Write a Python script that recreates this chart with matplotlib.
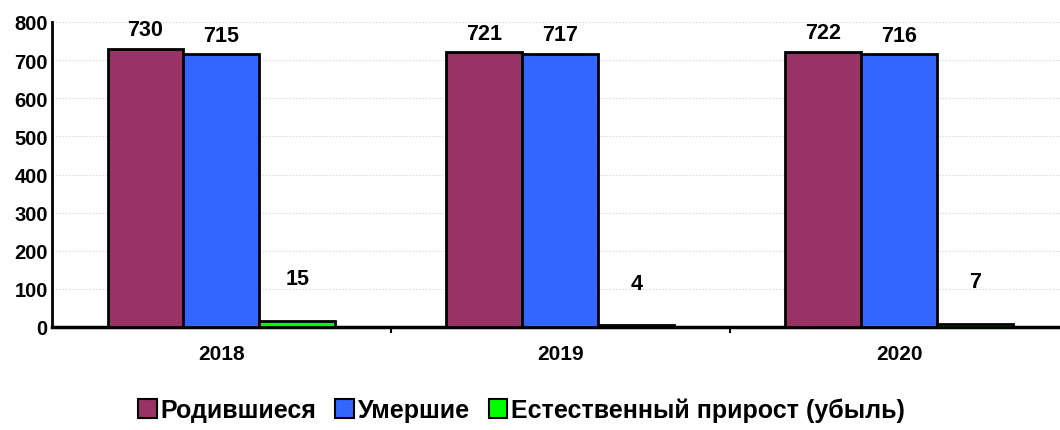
import matplotlib
matplotlib.use("Agg")
import matplotlib.pyplot as plt
import numpy as np
from matplotlib.patches import Patch

plt.rcParams['font.family'] = ['Liberation Sans', 'DejaVu Sans']
plt.rcParams['font.weight'] = 'bold'

years = ['2018', '2019', '2020']
series_names = ['Родившиеся', 'Умершие', 'Естественный прирост (убыль)']
born = [730, 721, 722]
died = [715, 717, 716]
growth = [15, 4, 7]
colors = ['#993366', '#3366FF', '#00FF00']

fig = plt.figure(figsize=(10.6, 4.31), dpi=100)
ax = fig.add_axes([52/1060, 1-328/431, 1-52/1060, (328-23)/431])

x = np.arange(len(years))
w = 0.224
data = [born, died, growth]
for i, (vals, c) in enumerate(zip(data, colors)):
    pos = x + (i-1)*w
    ax.bar(pos, vals, width=w, color=c, edgecolor='black', linewidth=2, zorder=3)
    for p, v in zip(pos, vals):
        off = 6 if i < 2 else 23
        ax.annotate(str(v), (p, v), xytext=(0, off), textcoords='offset points',
                    ha='center', va='bottom', fontsize=15.5, fontweight='bold')

ax.set_xlim(-0.5, 2.475)
ax.set_ylim(0, 800)
ax.set_yticks(range(0, 801, 100))
ax.yaxis.grid(True, color='#dddddd', linestyle=(0, (1.5, 1.5)), linewidth=0.8, zorder=0)
ax.set_axisbelow(True)
ax.tick_params(axis='y', length=0, pad=3, labelsize=14.5)
for lab in ax.get_yticklabels():
    lab.set_fontweight('bold')

ax.set_xticks(x)
ax.set_xticklabels(years, fontsize=15, fontweight='bold')
ax.set_xticks([0.5, 1.5], minor=True)
ax.tick_params(axis='x', which='major', length=0, pad=12)
ax.tick_params(axis='x', which='minor', length=4, width=1.5, direction='out')

for s in ['top', 'right']:
    ax.spines[s].set_visible(False)
ax.spines['left'].set_linewidth(2)
ax.spines['bottom'].set_linewidth(2.5)

handles = [Patch(facecolor=c, edgecolor='black', linewidth=1.5) for c in colors]
fig.legend(handles, series_names, loc='center', bbox_to_anchor=(0.492, 1-411/431),
           ncol=3, frameon=False, handlelength=0.75, handleheight=0.75,
           handletextpad=0.15, columnspacing=0.75,
           prop={'size': 18, 'weight': 'bold'})

fig.savefig('out.png', dpi=100)
